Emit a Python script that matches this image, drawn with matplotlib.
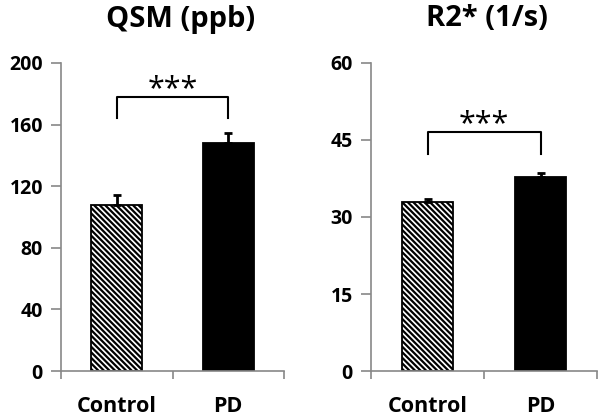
import matplotlib
matplotlib.use("Agg")
import matplotlib.pyplot as plt

plt.rcParams['font.family'] = ['Open Sans', 'DejaVu Sans']
plt.rcParams['hatch.linewidth'] = 1.6

groups = ['Control', 'PD']

qsm_mean = [108, 148]
qsm_err = [6, 6.5]
qsm_ticks = [0, 40, 80, 120, 160, 200]

r2_mean = [32.9, 37.7]
r2_err = [0.7, 0.9]
r2_ticks = [0, 15, 30, 45, 60]

panels = [
    ('QSM (ppb)', qsm_mean, qsm_err, qsm_ticks, (178, 164)),
    ('R2* (1/s)', r2_mean, r2_err, r2_ticks, (46.6, 42.3)),
]

fig = plt.figure(figsize=(6, 4.19), dpi=100)
axes_pos = [
    [61 / 600, 48 / 419, 223 / 600, 308 / 419],
    [371 / 600, 48 / 419, 226 / 600, 308 / 419],
]
title_x = [181, 487]

for pos, tx, (title, mean, err, ticks, bracket) in zip(axes_pos, title_x, panels):
    ax = fig.add_axes(pos)
    x = range(len(groups))
    bars = ax.bar(x, mean, width=0.46, color=['white', 'black'],
                  edgecolor='black', linewidth=1.3, zorder=2)
    bars[0].set_hatch('\\' * 6)
    ax.errorbar(x, mean, yerr=[[0, 0], err], fmt='none', ecolor='black',
                elinewidth=2, capsize=3, capthick=2, zorder=3)

    # significance bracket
    top, low = bracket
    ax.plot([0, 0, 1, 1], [low, top, top, low], color='black', lw=1.5,
            clip_on=False, zorder=3)
    ax.annotate('***', xy=(0.5, top), xytext=(0, -0.5), textcoords='offset points',
                ha='center', va='baseline', fontsize=22, color='black')

    ax.set_xlim(-0.5, 1.5)
    ax.set_ylim(0, ticks[-1])
    ax.set_yticks(ticks)
    ax.set_yticklabels([str(t) for t in ticks], fontsize=14, fontweight='bold')
    ax.set_xticks([-0.5, 0.5, 1.5])
    ax.set_xticklabels([])
    ax.set_xticks([0, 1], minor=True)
    ax.set_xticklabels(groups, minor=True, fontsize=15.5, fontweight='bold')
    ax.tick_params(axis='x', which='minor', length=0, pad=18)
    ax.tick_params(axis='x', which='major', length=6, color='#888888', width=1.2)
    ax.tick_params(axis='y', length=7, color='#888888', width=1.2, pad=6)

    for side in ['top', 'right']:
        ax.spines[side].set_visible(False)
    for side in ['left', 'bottom']:
        ax.spines[side].set_color('#888888')
        ax.spines[side].set_linewidth(1.2)

    fig.text(tx / 600, 1 - 19 / 419, title, ha='center', va='center',
             fontsize=21, fontweight='bold')

fig.savefig('out.png', dpi=100)
